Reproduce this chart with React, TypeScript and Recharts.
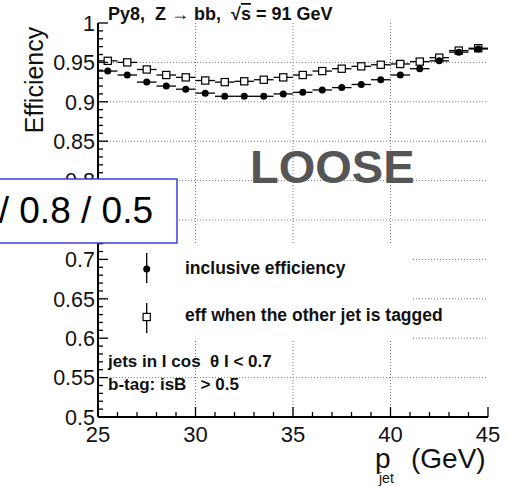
import { CartesianGrid, ComposedChart, ErrorBar, Scatter, XAxis, YAxis } from 'recharts'

// bin centres in GeV (1 GeV bins)
const ptBins = [25.5, 26.5, 27.5, 28.5, 29.5, 30.5, 31.5, 32.5, 33.5, 34.5, 35.5, 36.5, 37.5, 38.5, 39.5, 40.5, 41.5, 42.5, 43.5, 44.5]
const inclusiveEff = [0.939, 0.934, 0.925, 0.92, 0.916, 0.911, 0.907, 0.907, 0.907, 0.91, 0.912, 0.915, 0.918, 0.922, 0.928, 0.934, 0.942, 0.952, 0.963, 0.967]
const taggedEff = [0.952, 0.95, 0.941, 0.934, 0.931, 0.927, 0.925, 0.926, 0.928, 0.931, 0.934, 0.939, 0.942, 0.945, 0.947, 0.948, 0.951, 0.956, 0.965, 0.968]
const binHalfWidth = 0.5

const xMajorTicks = [25, 30, 35, 40, 45]
const yMajorTicks = [0.5, 0.55, 0.6, 0.65, 0.7, 0.75, 0.8, 0.85, 0.9, 0.95, 1]
const xGridValues = [30, 35, 40]
const yGridValues = [0.55, 0.6, 0.65, 0.7, 0.75, 0.8, 0.85, 0.9, 0.95]

// minor ticks: every 1 GeV and every 0.01
const xAllTicks: number[] = []
for (let v = 25; v <= 45; v++) xAllTicks.push(v)
const yAllTicks: number[] = []
for (let k = 50; k <= 100; k++) yAllTicks.push(k / 100)

const inclusiveRows = ptBins.map((pt, i) => ({ pt, eff: inclusiveEff[i], xErr: binHalfWidth }))
const taggedRows = ptBins.map((pt, i) => ({ pt, eff: taggedEff[i], xErr: binHalfWidth }))

const FONT = "'Liberation Sans', Arial, Helvetica, sans-serif"
const W = 508
const H = 486

const isXMajor = (v: number) => xMajorTicks.includes(v)
const isYMajor = (v: number) => yMajorTicks.some((t) => Math.abs(t - v) < 1e-6)

function BottomTick({ x, y, payload }: any) {
  const major = isXMajor(payload.value)
  return (
    <g>
      <line x1={x} x2={x} y1={y} y2={y - (major ? 10 : 5)} stroke="#000" strokeWidth={1.3} />
      {major && (
        <text x={x} y={y + 25} textAnchor="middle" fontSize={22} fontFamily={FONT} fill="#111">
          {payload.value}
        </text>
      )}
    </g>
  )
}

function TopTick({ x, y, payload }: any) {
  const major = isXMajor(payload.value)
  return <line x1={x} x2={x} y1={y} y2={y + (major ? 10 : 5)} stroke="#000" strokeWidth={1.3} />
}

function LeftTick({ x, y, payload }: any) {
  const major = isYMajor(payload.value)
  return (
    <g>
      <line x1={x} x2={x + (major ? 10 : 5)} y1={y} y2={y} stroke="#000" strokeWidth={1.3} />
      {major && (
        <text x={x - 3} y={y} dy="0.36em" textAnchor="end" fontSize={21.5} fontFamily={FONT} fill="#111">
          {String(payload.value)}
        </text>
      )}
    </g>
  )
}

function RightTick({ x, y, payload }: any) {
  const major = isYMajor(payload.value)
  return <line x1={x} x2={x - (major ? 10 : 5)} y1={y} y2={y} stroke="#000" strokeWidth={1.3} />
}

const dot = (p: any) => <circle cx={p.cx} cy={p.cy} r={3.5} fill="#000" />
const openSquare = (p: any) => (
  <rect x={p.cx - 3.6} y={p.cy - 3.6} width={7.2} height={7.2} fill="#fff" stroke="#000" strokeWidth={1.2} />
)

const frame = { stroke: '#000', strokeWidth: 2 }
const pre = { whiteSpace: 'pre' as const }

export default function App() {
  return (
    <div style={{ position: 'absolute', left: 0, top: 0, width: W, height: H, background: '#fff' }}>
      <ComposedChart width={W} height={H} margin={{ top: 23, right: 20, bottom: 39, left: 8 }}>
        <CartesianGrid
          xAxisId="b"
          yAxisId="l"
          verticalValues={xGridValues}
          horizontalValues={yGridValues}
          stroke="#777"
          strokeDasharray="1 2"
        />
        <XAxis
          xAxisId="b"
          type="number"
          dataKey="pt"
          domain={[25, 45]}
          ticks={xAllTicks}
          interval={0}
          allowDataOverflow
          height={30}
          tickSize={0}
          tickMargin={0}
          tickLine={false}
          axisLine={frame}
          tick={<BottomTick />}
        />
        <XAxis
          xAxisId="t"
          orientation="top"
          type="number"
          dataKey="pt"
          domain={[25, 45]}
          ticks={xAllTicks}
          interval={0}
          allowDataOverflow
          height={0}
          tickSize={0}
          tickMargin={0}
          tickLine={false}
          axisLine={frame}
          tick={<TopTick />}
        />
        <YAxis
          yAxisId="l"
          type="number"
          domain={[0.5, 1]}
          ticks={yAllTicks}
          interval={0}
          allowDataOverflow
          width={90}
          tickSize={0}
          tickMargin={0}
          tickLine={false}
          axisLine={frame}
          tick={<LeftTick />}
        />
        <YAxis
          yAxisId="r"
          orientation="right"
          type="number"
          domain={[0.5, 1]}
          ticks={yAllTicks}
          interval={0}
          allowDataOverflow
          width={0}
          tickSize={0}
          tickMargin={0}
          tickLine={false}
          axisLine={frame}
          tick={<RightTick />}
        />
        <Scatter
          name="eff when the other jet is tagged"
          data={taggedRows}
          dataKey="eff"
          xAxisId="b"
          yAxisId="l"
          shape={openSquare}
          isAnimationActive={false}
        >
          <ErrorBar dataKey="xErr" direction="x" width={0} stroke="#000" strokeWidth={1.3} isAnimationActive={false} />
        </Scatter>
        <Scatter
          name="inclusive efficiency"
          data={inclusiveRows}
          dataKey="eff"
          xAxisId="b"
          yAxisId="l"
          shape={dot}
          isAnimationActive={false}
        >
          <ErrorBar dataKey="xErr" direction="x" width={0} stroke="#000" strokeWidth={1.3} isAnimationActive={false} />
        </Scatter>
      </ComposedChart>

      <svg
        width={W}
        height={H}
        style={{ position: 'absolute', left: 0, top: 0, pointerEvents: 'none' }}
        fontFamily={FONT}
      >
        <text x={108} y={20} fontSize={18} fontWeight="bold" fill="#111" style={pre}>
          {'Py8,  Z → bb,  √'}
          <tspan style={{ textDecoration: 'overline' }}>s</tspan>
          {' = 91 GeV'}
        </text>
        <text transform="translate(43,80) rotate(-90)" textAnchor="middle" fontSize={25} fill="#111">
          Efficiency
        </text>
        <text x={375} y={468} fontSize={28} fill="#111">
          p
        </text>
        <text x={379} y={483} fontSize={14} fill="#111">
          jet
        </text>
        <text x={411} y={468} fontSize={28} fill="#111">
          (GeV)
        </text>

        <text x={250} y={183} fontSize={47} fontWeight="bold" fill="#555">
          LOOSE
        </text>

        <rect x={-1} y={179} width={178} height={64} fill="#fff" stroke="#3f3fdc" strokeWidth={1.5} />
        <text x={153} y={223} textAnchor="end" fontSize={37} fill="#000">
          / 0.8 / 0.5
        </text>

        <rect x={108} y={244} width={305} height={97} fill="#fff" />
        <line x1={146.7} x2={146.7} y1={253} y2={283} stroke="#000" strokeWidth={1.3} />
        <circle cx={146.7} cy={269} r={3.5} fill="#000" />
        <text x={185} y={274} fontSize={17.5} fontWeight="bold" fill="#111">
          inclusive efficiency
        </text>
        <line x1={146.7} x2={146.7} y1={303} y2={333} stroke="#000" strokeWidth={1.3} />
        <rect x={143.1} y={313.4} width={7.2} height={7.2} fill="#fff" stroke="#000" strokeWidth={1.2} />
        <text x={185} y={321} fontSize={17.5} fontWeight="bold" fill="#111">
          eff when the other jet is tagged
        </text>

        <text x={108} y={367} fontSize={17} fontWeight="bold" fill="#111" style={pre}>
          {'jets in I cos  θ I < 0.7'}
        </text>
        <text x={108} y={390} fontSize={17} fontWeight="bold" fill="#111" style={pre}>
          {'b-tag: isB   > 0.5'}
        </text>
      </svg>
    </div>
  )
}
